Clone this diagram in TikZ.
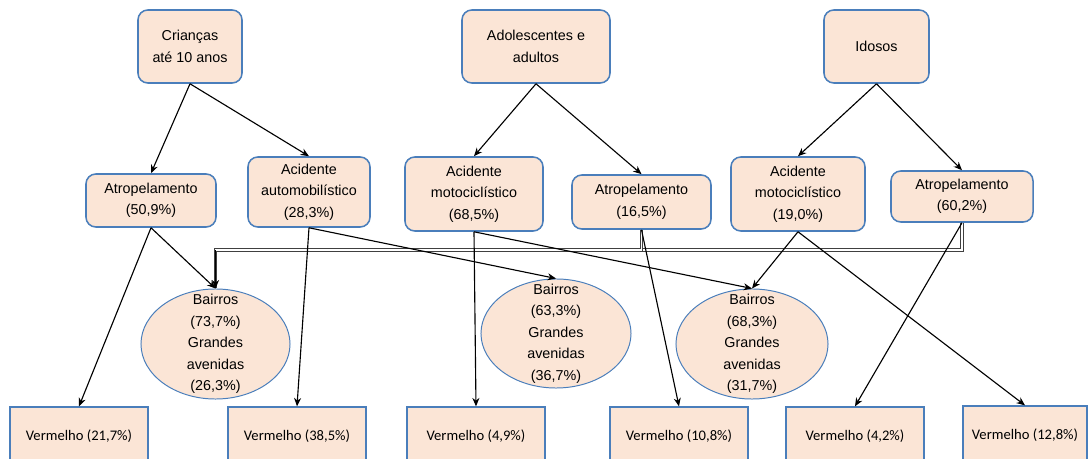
\documentclass[tikz,border=0pt]{standalone}
\usepackage{fontspec}
\setmainfont{Liberation Sans}
\newfontfamily\calibri{Carlito}
\usepackage{xcolor}
\usetikzlibrary{arrows.meta, shapes.geometric}
\definecolor{pessego}{HTML}{FBE5D6}
\definecolor{azulborda}{HTML}{4A7EBB}
\definecolor{trilho}{HTML}{404040}
\newcommand{\txt}{\fontsize{10.2}{15.3}\selectfont}
\tikzset{
  every picture/.style={>=Stealth},
  grupo/.style={draw=azulborda, fill=pessego, line width=1.1pt, rounded corners=7pt,
                inner sep=0pt, align=center, font=\txt},
  tipo/.style={grupo},
  local/.style={ellipse, draw=azulborda, fill=pessego, line width=0.7pt, inner sep=0pt},
  rotulo/.style={align=center, inner sep=0pt, font=\txt},
  semaforo/.style={draw=azulborda, fill=pessego, line width=0.9pt, inner sep=0pt,
                   minimum width=3.45cm, minimum height=1.45cm, font=\calibri\fontsize{10.4}{12}\selectfont},
  seta/.style={-{Stealth[length=6pt,width=5pt]}, line width=0.8pt, black},
  dupla/.style={draw=trilho, line width=0.75pt, double=white, double distance=1.2pt},
}

\begin{document}
\begin{tikzpicture}[x=0.025cm, y=-0.025cm]
  \clip (0,0) rectangle (1088,459);
  % faixas etarias
  \node[grupo, minimum width=2.6cm, minimum height=1.825cm] (cri) at (190,46.5) {Crianças\\até 10 anos};
  \node[grupo, minimum width=3.7cm, minimum height=1.825cm] (ado) at (536,46.5) {Adolescentes e\\adultos};
  \node[grupo, minimum width=2.625cm, minimum height=1.825cm] (ido) at (876.5,46.5) {Idosos};
  % tipos de acidente
  \node[tipo, minimum width=3.25cm, minimum height=1.325cm] (at50) at (151,200.5) {Atropelamento\\(50,9\%)};
  \node[tipo, minimum width=3.05cm, minimum height=1.75cm] (aut) at (309,192) {Acidente\\automobilístico\\(28,3\%)};
  \node[tipo, minimum width=3.45cm, minimum height=1.85cm] (mot68) at (474,194) {Acidente\\motociclístico\\(68,5\%)};
  \node[tipo, minimum width=3.475cm, minimum height=1.35cm] (at16) at (641.5,202) {Atropelamento\\(16,5\%)};
  \node[tipo, minimum width=3.35cm, minimum height=1.85cm] (mot19) at (798,194) {Acidente\\motociclístico\\(19,0\%)};
  \node[tipo, minimum width=3.55cm, minimum height=1.275cm] (at60) at (962,196.5) {Atropelamento\\(60,2\%)};
  % locais
  \node[local, minimum width=3.725cm, minimum height=2.75cm,
        label={[rotulo]center:{Bairros\\(73,7\%)\\Grandes\\avenidas\\(26,3\%)}}] (b1) at (215.5,344) {};
  \node[local, minimum width=3.75cm, minimum height=2.725cm,
        label={[rotulo]center:{Bairros\\(63,3\%)\\Grandes\\avenidas\\(36,7\%)}}] (b2) at (556,333.5) {};
  \node[local, minimum width=3.8cm, minimum height=2.75cm,
        label={[rotulo]center:{Bairros\\(68,3\%)\\Grandes\\avenidas\\(31,7\%)}}] (b3) at (752,344) {};
  % sinal vermelho
  \node[semaforo] (v1) at (79,436) {Vermelho (21,7\%)};
  \node[semaforo] (v2) at (297,436) {Vermelho (38,5\%)};
  \node[semaforo] (v3) at (476,436) {Vermelho (4,9\%)};
  \node[semaforo] (v4) at (679,436) {Vermelho (10,8\%)};
  \node[semaforo] (v5) at (855,436) {Vermelho (4,2\%)};
  \node[semaforo, minimum width=3.1cm] (v6) at (1025,435) {Vermelho (12,8\%)};
  % ligacoes duplas
  \coordinate (trilho) at (0,250);
  \draw[dupla] (at60.south) |- (at16.south |- trilho);
  \draw[dupla] (at16.south) |- (b1.north |- trilho) -- (b1.north);
  % setas
  \draw[seta] (cri.south) -- (at50.north); \draw[seta] (cri.south) -- (aut.north);
  \draw[seta] (ado.south) -- (mot68.north); \draw[seta] (ado.south) -- (at16.north);
  \draw[seta] (ido.south) -- (mot19.north); \draw[seta] (ido.south) -- (at60.north);
  \draw[seta] (at50.south) -- (v1.north); \draw[seta] (at50.south) -- (b1.north);
  \draw[seta] (aut.south) -- (v2.north); \draw[seta] (aut.south) -- (b2.north);
  \draw[seta] (mot68.south) -- (v3.north); \draw[seta] (mot68.south) -- (b3.north);
  \draw[seta] (at16.south) -- (v4.north);
  \draw[seta] (mot19.south) -- (b3.north); \draw[seta] (mot19.south) -- (v6.north);
  \draw[seta] (at60.south) -- (v5.north);
  \draw[seta] (b1.north |- trilho) -- (b1.north);
\end{tikzpicture}
\end{document}
